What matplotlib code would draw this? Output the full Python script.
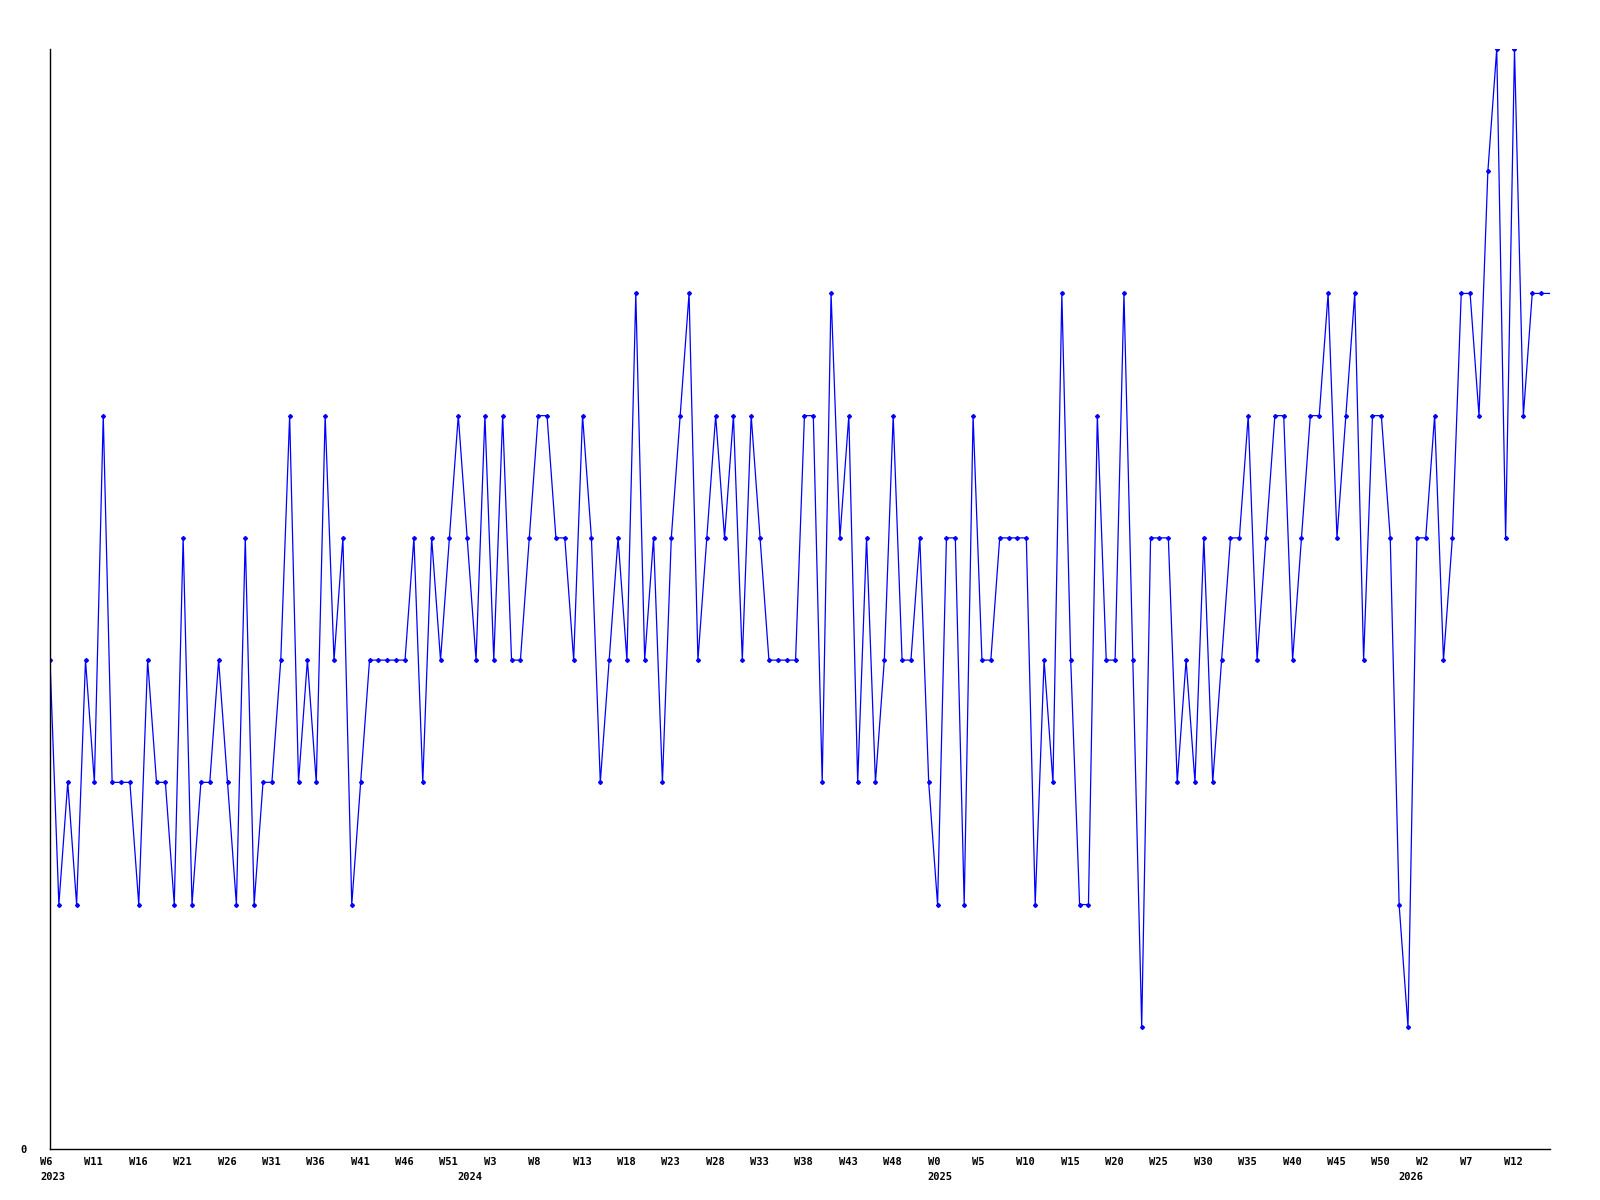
import matplotlib
matplotlib.use("Agg")
import matplotlib.pyplot as plt
import numpy as np

# weekly counts, 2023 W6 .. 2026 (last value is the open week, drawn without marker)
counts = [
    4, 2, 3, 2, 4, 3, 6, 3, 3, 3, 2, 4, 3, 3, 2, 5, 2, 3, 3, 4, 3, 2,
    5, 2, 3, 3, 4, 6, 3, 4, 3, 6, 4, 5, 2, 3, 4, 4, 4, 4, 4, 5, 3,
    5, 4, 5, 6, 5, 4, 6, 4, 6, 4, 4, 5, 6, 6, 5, 5, 4, 6, 5, 3, 4, 5,
    4, 7, 4, 5, 3, 5, 6, 7, 4, 5, 6, 5, 6, 4, 6, 5, 4, 4, 4, 4, 6,
    6, 3, 7, 5, 6, 3, 5, 3, 4, 6, 4, 4, 5, 3, 2, 5, 5, 2, 6, 4, 4, 5,
    5, 5, 5, 2, 4, 3, 7, 4, 2, 2, 6, 4, 4, 7, 4, 1, 5, 5, 5, 3, 4,
    3, 5, 3, 4, 5, 5, 6, 4, 5, 6, 6, 4, 5, 6, 6, 7, 5, 6, 7, 4, 6,
    6, 5, 2, 1, 5, 5, 6, 4, 5, 7, 7, 6, 8, 9, 5, 9, 6, 7, 7,
    7,
]

week_labels = [
    "W6", "W11", "W16", "W21", "W26", "W31", "W36", "W41", "W46", "W51",
    "W3", "W8", "W13", "W18", "W23", "W28", "W33", "W38", "W43", "W48",
    "W0", "W5", "W10", "W15", "W20", "W25", "W30", "W35", "W40", "W45", "W50",
    "W2", "W7", "W12",
]
label_step = 5

years = ["2023", "2024", "2025", "2026"]
year_start_idx = [0, 47, 100, 153]

font = dict(family="DejaVu Sans Mono", fontweight="bold", fontsize=7.5, color="black")

x = np.arange(len(counts))
fig = plt.figure(figsize=(16, 12), dpi=100)
ax = fig.add_axes([50 / 1600, 51 / 1200, 1500 / 1600, 1100 / 1200])

ax.plot(x, counts, color="#0000ff", linewidth=0.9,
        marker="D", markersize=2.0, markevery=list(range(len(counts) - 1)))

ax.set_xlim(0, len(counts) - 1)
ax.set_ylim(0, max(counts))

for s in ("top", "right"):
    ax.spines[s].set_visible(False)
for s in ("left", "bottom"):
    ax.spines[s].set_color("black")
    ax.spines[s].set_linewidth(1.0)

ax.set_xticks([])
ax.set_yticks([0])
ax.set_yticklabels(["0"], **font)
ax.tick_params(axis="y", length=0, pad=17)

for i, lab in enumerate(week_labels):
    ax.annotate(lab, xy=(i * label_step, 0), xycoords=("data", "axes fraction"),
                xytext=(-10, -13), textcoords="offset pixels",
                ha="left", va="center", annotation_clip=False, **font)

for yr, i in zip(years, year_start_idx):
    ax.annotate(yr, xy=(i, 0), xycoords=("data", "axes fraction"),
                xytext=(-10, -28), textcoords="offset pixels",
                ha="left", va="center", annotation_clip=False, **font)

fig.savefig("out.png", dpi=100, facecolor="white")
plt.close(fig)
